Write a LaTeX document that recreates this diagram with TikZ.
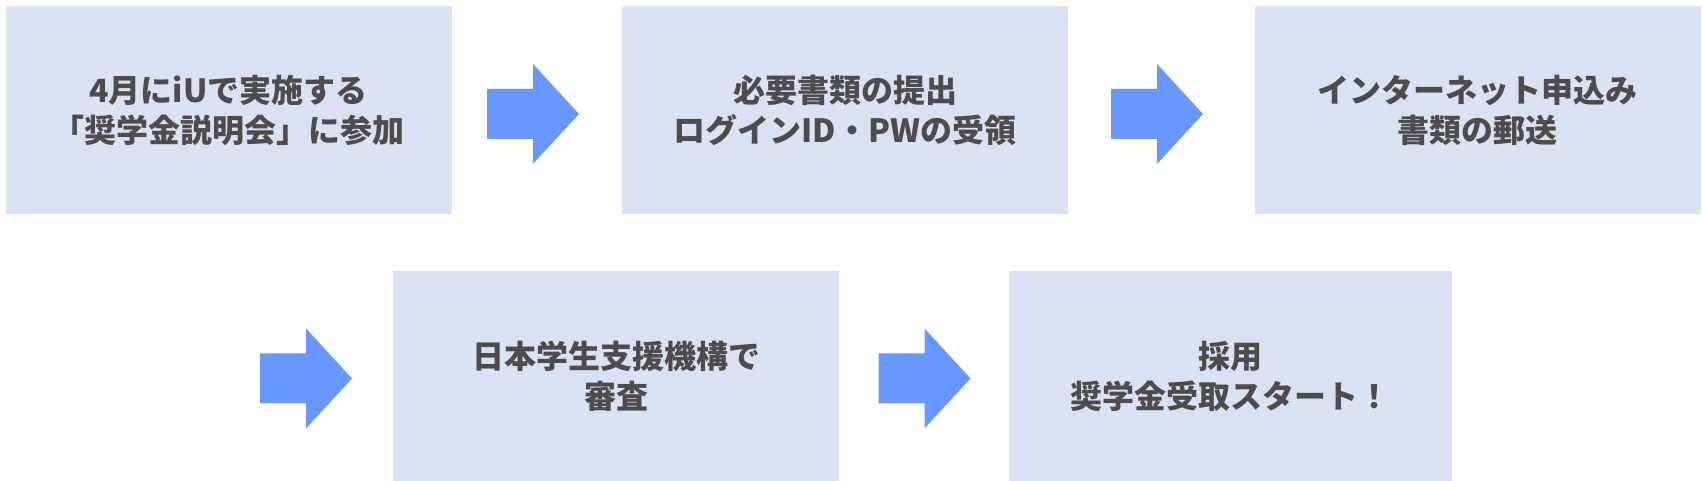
\documentclass[tikz,border=0pt]{standalone}
\usepackage{fontspec}
\setmainfont{Noto Sans CJK JP}
\definecolor{boxblue}{HTML}{DAE3F3}
\definecolor{arrowblue}{HTML}{6897FF}
\definecolor{textgray}{HTML}{4D4B4B}
\tikzset{
	stepbox/.style={rectangle,fill=boxblue,draw=none,minimum width=446pt,minimum height=208pt,inner sep=0pt,
		text=textgray,align=center,font=\bfseries\fontsize{32}{40}\selectfont},
	blockarrow/.pic={\fill[arrowblue] (-46,-25) -- (0,-25) -- (0,-50) -- (46,0) -- (0,50) -- (0,25) -- (-46,25) -- cycle;}
}

\begin{document}
\begin{tikzpicture}[x=1pt,y=1pt]
		\useasboundingbox (0,0) rectangle (1703,481);
		% first row
		\node[stepbox] (setsumei) at (228.5,371) {4月にiUで実施する\\「奨学金説明会」に参加};
		\node[stepbox] (teishutsu) at (845,371) {必要書類の提出\\ログインID・PWの受領};
		\node[stepbox] (moushikomi) at (1477.5,371) {インターネット申込み\\書類の郵送};
		% second row
		\node[stepbox,minimum height=210pt] (shinsa) at (616,105) {日本学生支援機構で\\審査};
		\node[stepbox,minimum height=210pt,minimum width=443pt] (saiyou) at (1230.5,105) {採用\\奨学金受取スタート！};
		% arrows
		\pic (arrowA) at (533,367) {blockarrow};
		\pic (arrowB) at (1157,367) {blockarrow};
		\pic (arrowC) at (306,102.5) {blockarrow};
		\pic (arrowD) at (924.5,102.5) {blockarrow};
	\end{tikzpicture}
\end{document}
